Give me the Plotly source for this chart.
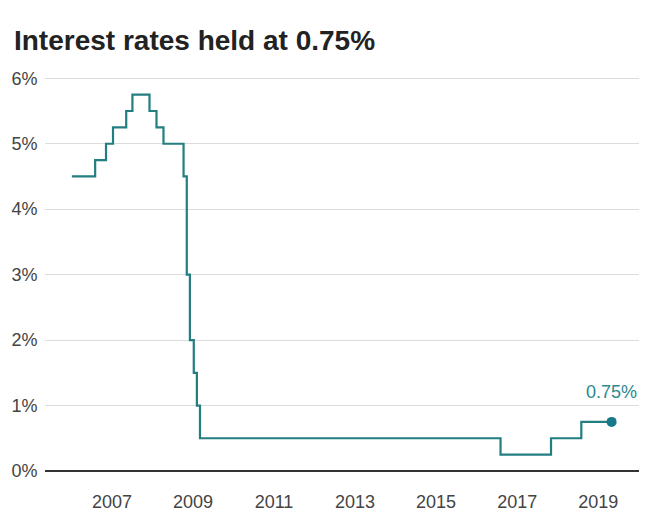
import plotly.graph_objects as go

dates = ["2006-01-05", "2006-08-03", "2006-11-09", "2007-01-11", "2007-05-10",
         "2007-07-05", "2007-12-06", "2008-02-07", "2008-04-10", "2008-10-08",
         "2008-11-06", "2008-12-04", "2009-01-08", "2009-02-05", "2009-03-05",
         "2016-08-04", "2017-11-02", "2018-08-02", "2019-05-02"]
rates = [4.5, 4.75, 5.0, 5.25, 5.5, 5.75, 5.5, 5.25, 5.0, 4.5,
         3.0, 2.0, 1.5, 1.0, 0.5, 0.25, 0.5, 0.75, 0.75]

x_ticks = ["2007-01-01", "2009-01-01", "2011-01-01", "2013-01-01",
           "2015-01-01", "2017-01-01", "2019-01-01"]
x_tick_labels = ["2007", "2009", "2011", "2013", "2015", "2017", "2019"]
y_ticks = [0, 1, 2, 3, 4, 5, 6]
y_tick_labels = ["0%", "1%", "2%", "3%", "4%", "5%", "6%"]

title_text = "Interest rates held at 0.75%"
end_label = "0.75%"

teal = "#227e80"
marker_teal = "#177a8a"
label_teal = "#2a8a8e"
font = "Liberation Sans, Arial, sans-serif"

fig = go.Figure()
fig.add_trace(go.Scatter(
    x=dates, y=rates, mode="lines", line=dict(color=teal, width=2.2, shape="hv"),
    hoverinfo="skip", showlegend=False))
fig.add_trace(go.Scatter(
    x=[dates[-1]], y=[rates[-1]], mode="markers",
    marker=dict(color=marker_teal, size=10), showlegend=False, hoverinfo="skip"))

fig.add_annotation(x=dates[-1], y=rates[-1], text=end_label, showarrow=False,
                   yshift=30, xshift=0, font=dict(family=font, size=18, color=label_teal))

fig.update_layout(
    width=644, height=507,
    margin=dict(l=37, r=13, t=67, b=44, autoexpand=False),
    paper_bgcolor="white", plot_bgcolor="white",
    font=dict(family=font, color="#444444", size=18),
    title=dict(text="<b>" + title_text + "</b>", x=0.0093, xref="container", xanchor="left",
               y=0.937, yref="container", yanchor="middle", pad=dict(t=0, l=0),
               font=dict(family=font, size=28, color="#222222")),
    xaxis=dict(range=["2005-05-08", "2020-01-04"], tickvals=x_ticks,
               ticktext=x_tick_labels, showgrid=False, zeroline=False, automargin=False,
               showline=False, ticks="outside", ticklen=14, tickcolor="rgba(0,0,0,0)",
               tickfont=dict(size=18, color="#444444")),
    yaxis=dict(range=[0, 6.05], tickvals=y_ticks, ticktext=y_tick_labels, automargin=False,
               showgrid=True, gridcolor="#dcdcdc", gridwidth=1,
               zeroline=True, zerolinecolor="#333333", zerolinewidth=2,
               showline=False, ticks="outside", ticklen=3, tickcolor="rgba(0,0,0,0)",
               tickfont=dict(size=18, color="#444444")),
)

fig.write_html("out.html")
